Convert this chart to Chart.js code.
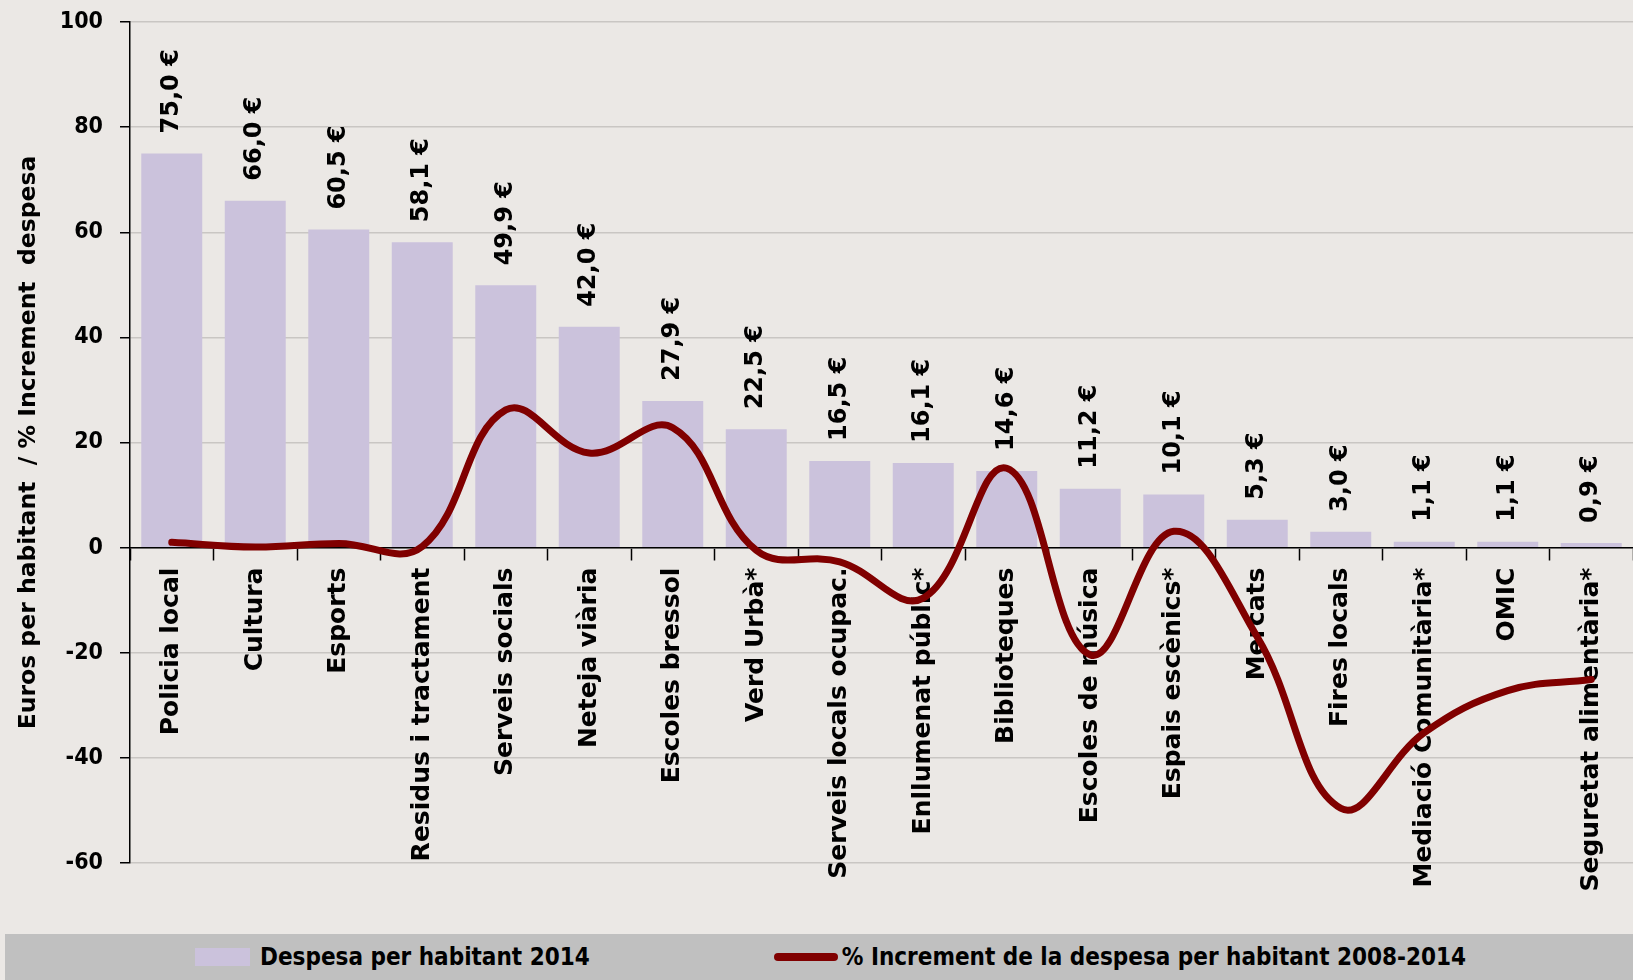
<!DOCTYPE html>
<html lang="ca">
<head>
<meta charset="utf-8">
<title>Despesa per habitant 2014</title>
<script src="https://cdn.jsdelivr.net/npm/chart.js@4.4.1/dist/chart.umd.min.js"></script>
<style>
  html, body { margin: 0; padding: 0; background: #ebe8e5; overflow: hidden; }
  #despesaChart { display: block; }
  #legend {
    margin-left: 5px;
    width: 1628px;
    height: 46px;
    background: #c0c0c0;
    display: flex;
    align-items: center;
    padding-left: 190px;
    box-sizing: border-box;
    white-space: nowrap;
    font-family: "DejaVu Sans Condensed", "DejaVu Sans", sans-serif;
    font-stretch: condensed;
    font-weight: bold;
    font-size: 24px;
    color: #000;
  }
  .legend-item { display: flex; align-items: center; flex: none; margin-right: 184px; }
  .swatch-bar { width: 55px; height: 18px; margin-right: 10px; flex: none; }
  .swatch-line { width: 64px; height: 8px; border-radius: 4px; margin-right: 4px; flex: none; }
</style>
</head>
<body>
<canvas id="despesaChart" width="1633" height="934"></canvas>
<div id="legend"></div>
<script>
const categories = [
  'Policia local', 'Cultura', 'Esports', 'Residus i tractament', 'Serveis socials',
  'Neteja viària', 'Escoles bressol', 'Verd Urbà*', 'Serveis locals ocupac.',
  'Enllumenat públic*', 'Biblioteques', 'Escoles de música', 'Espais escènics*',
  'Mercats', 'Fires locals', 'Mediació Comunitària*', 'OMIC', 'Seguretat alimentària*'
];

// euros per habitant, 2014
const despesa2014 = [75.0, 66.0, 60.5, 58.1, 49.9, 42.0, 27.9, 22.5, 16.5, 16.1, 14.6, 11.2, 10.1, 5.3, 3.0, 1.1, 1.1, 0.9];

// % increment 2008-2014
const increment = [1.0, 0.1, 0.8, 0.2, 26.2, 18.0, 22.8, -0.5, -2.7, -9.6, 15.1, -20.4, 3.1, -17.0, -49.6, -35.2, -27.2, -25.1];

const yMin = -60;
const yMax = 100;
const yStep = 20;

const barColor = '#cbc2dc';
const lineColor = '#800000';

function formatEuro(value) {
  return value.toFixed(1).replace('.', ',') + ' €';
}

// Rotated value labels above every bar
const barValueLabels = {
  id: 'barValueLabels',
  afterDatasetsDraw(chart) {
    const { ctx } = chart;
    const barIndex = chart.data.datasets.findIndex(ds => ds.type === 'bar');
    const meta = chart.getDatasetMeta(barIndex);
    ctx.save();
    ctx.font = 'bold 24px "DejaVu Sans"';
    ctx.fillStyle = '#000';
    ctx.textAlign = 'left';
    ctx.textBaseline = 'middle';
    meta.data.forEach((bar, i) => {
      ctx.save();
      ctx.translate(bar.x, bar.y - 20);
      ctx.rotate(-Math.PI / 2);
      ctx.fillText(formatEuro(despesa2014[i]), 0, 0);
      ctx.restore();
    });
    ctx.restore();
  }
};

const chart = new Chart(document.getElementById('despesaChart'), {
  data: {
    labels: categories,
    datasets: [
      {
        type: 'line',
        label: '% Increment de la despesa per habitant 2008-2014',
        data: increment,
        borderColor: lineColor,
        backgroundColor: lineColor,
        borderWidth: 7,
        borderCapStyle: 'round',
        tension: 0.4,
        pointRadius: 0,
        order: 0
      },
      {
        type: 'bar',
        label: 'Despesa per habitant 2014',
        data: despesa2014,
        backgroundColor: barColor,
        categoryPercentage: 0.73,
        barPercentage: 1,
        order: 1
      }
    ]
  },
  options: {
    responsive: false,
    animation: false,
    layout: { padding: { top: 22, right: 0, bottom: 71, left: 0 } },
    plugins: {
      legend: { display: false },
      tooltip: { enabled: false }
    },
    scales: {
      x: {
        position: { y: 0 },
        grid: {
          offset: true,
          drawOnChartArea: false,
          tickLength: 12,
          tickColor: '#000',
          tickWidth: 1.5
        },
        border: { color: '#000', width: 1.5 },
        ticks: {
          autoSkip: false,
          minRotation: 90,
          maxRotation: 90,
          padding: 8,
          color: '#000',
          font: { family: '"DejaVu Sans"', size: 25, weight: 'bold' }
        }
      },
      y: {
        min: yMin,
        max: yMax,
        afterFit(scale) {
          // fixed axis width; the tick padding must not push the plot down
          scale.width = 130;
          scale.paddingTop = 0;
          scale.paddingBottom = 0;
        },
        grid: {
          color: '#c9c6c3',
          lineWidth: 1.5,
          tickLength: 10,
          tickColor: '#000'
        },
        border: { color: '#000', width: 1.5 },
        ticks: {
          stepSize: yStep,
          padding: 17,
          color: '#000',
          font: { family: '"DejaVu Sans Condensed", "DejaVu Sans"', size: 23, weight: 'bold' }
        },
        title: {
          display: true,
          text: 'Euros per habitant  / % Increment  despesa',
          color: '#000',
          padding: { top: 15, bottom: 0 },
          font: { family: '"DejaVu Sans"', size: 23.5, weight: 'bold' }
        }
      }
    }
  },
  plugins: [barValueLabels]
});

// Legend below the chart: bar series first, then the line
function buildLegend(chart) {
  const legend = document.getElementById('legend');
  const datasets = chart.data.datasets.slice().sort((a, b) => b.order - a.order);
  datasets.forEach(ds => {
    const item = document.createElement('div');
    item.className = 'legend-item';
    const swatch = document.createElement('span');
    swatch.className = ds.type === 'line' ? 'swatch-line' : 'swatch-bar';
    swatch.style.background = ds.type === 'line' ? ds.borderColor : ds.backgroundColor;
    const text = document.createElement('span');
    text.textContent = ds.label;
    item.appendChild(swatch);
    item.appendChild(text);
    legend.appendChild(item);
  });
}

buildLegend(chart);
</script>
</body>
</html>
